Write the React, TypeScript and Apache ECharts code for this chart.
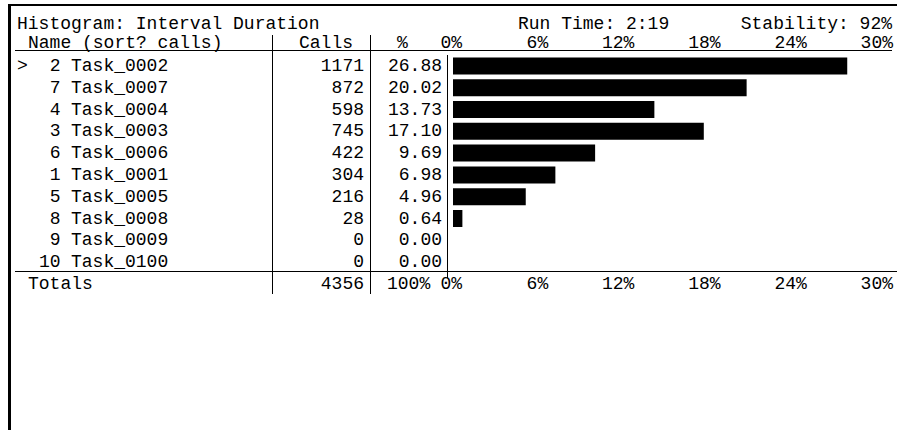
import React, { useEffect, useRef } from "react";
import * as echarts from "echarts";

const tasks = ["Task_0002", "Task_0007", "Task_0004", "Task_0003", "Task_0006", "Task_0001", "Task_0005", "Task_0008", "Task_0009", "Task_0100"];
const ranks = [2, 7, 4, 3, 6, 1, 5, 8, 9, 10];
const calls = [1171, 872, 598, 745, 422, 304, 216, 28, 0, 0];
const percents = [26.88, 20.02, 13.73, 17.10, 9.69, 6.98, 4.96, 0.64, 0.00, 0.00];
const titleText = "Histogram: Interval Duration";
const runTimeText = "Run Time: 2:19";
const stabilityText = "Stability: 92%";
const totalPercentText = "100%";

const FONT = '18px "Liberation Mono", "DejaVu Sans Mono", monospace';
const INK = "#000";

export default function App() {
  const ref = useRef<HTMLDivElement>(null);
  useEffect(() => {
    if (!ref.current) return;
    const chart = echarts.init(ref.current, null, { renderer: "svg" });
    const totalCalls = calls.reduce((a, b) => a + b, 0);
    const GL = 453;
    const yLabelBase = {
      fontFamily: '"Liberation Mono", "DejaVu Sans Mono", monospace',
      fontSize: 18,
      color: INK,
      interval: 0,
    };
    const hiddenAxisParts = {
      axisLine: { show: false },
      axisTick: { show: false },
      splitLine: { show: false },
    };
    const text = (t: string, x: number, y: number, align = "left") => ({
      type: "text",
      x,
      y,
      silent: true,
      style: { text: t, font: FONT, fill: INK, align, verticalAlign: "middle" },
    });
    const line = (x1: number, y1: number, x2: number, y2: number) => ({
      type: "line",
      silent: true,
      shape: { x1, y1, x2, y2 },
      style: { stroke: INK, lineWidth: 1 },
    });
    chart.setOption({
      animation: false,
      backgroundColor: "#fff",
      grid: [
        { left: GL, top: 55, width: 440, height: 218, outerBoundsMode: "none", containLabel: false },
        { left: 462, top: 50, width: 431, height: 221, outerBoundsMode: "none", containLabel: false },
      ],
      xAxis: [
        { gridIndex: 0, type: "value", min: 0, max: 30, show: false },
        {
          gridIndex: 1, type: "value", min: 0, max: 30, interval: 6, position: "top",
          ...hiddenAxisParts,
          axisLabel: { ...yLabelBase, formatter: "{value}%", align: "right", verticalAlign: "middle", margin: 7 },
        },
        {
          gridIndex: 1, type: "value", min: 0, max: 30, interval: 6, position: "bottom",
          ...hiddenAxisParts,
          axisLabel: { ...yLabelBase, formatter: "{value}%", align: "right", verticalAlign: "middle", margin: 13 },
        },
      ],
      yAxis: [
        {
          gridIndex: 0, type: "category", data: tasks, inverse: true, position: "left",
          ...hiddenAxisParts,
          axisLabel: { ...yLabelBase, align: "left", margin: GL - 71 },
        },
        {
          gridIndex: 0, type: "category", data: tasks, inverse: true, position: "left",
          ...hiddenAxisParts,
          axisLabel: { ...yLabelBase, align: "right", margin: GL - 60.5, formatter: (_v: string, i: number) => String(ranks[i]) },
        },
        {
          gridIndex: 0, type: "category", data: tasks, inverse: true, position: "left",
          ...hiddenAxisParts,
          axisLabel: { ...yLabelBase, align: "right", margin: GL - 364, formatter: (_v: string, i: number) => String(calls[i]) },
        },
        {
          gridIndex: 0, type: "category", data: tasks, inverse: true, position: "left",
          ...hiddenAxisParts,
          axisLabel: { ...yLabelBase, align: "right", margin: GL - 442, formatter: (_v: string, i: number) => percents[i].toFixed(2) },
        },
        { gridIndex: 1, type: "value", show: false },
      ],
      series: [
        {
          type: "bar",
          xAxisIndex: 0,
          yAxisIndex: 0,
          data: percents,
          barWidth: 17,
          itemStyle: { color: INK },
          silent: true,
        },
      ],
      graphic: [
        { type: "rect", silent: true, shape: { x: 8, y: 4, width: 3, height: 426 }, style: { fill: INK } },
        { type: "rect", silent: true, shape: { x: 8, y: 4, width: 889, height: 2 }, style: { fill: INK } },
        text(titleText, 17, 24),
        text(runTimeText, 518, 24),
        text(stabilityText, 892, 24, "right"),
        text("Name (sort? calls)", 28, 43),
        text("Calls", 353, 43, "right"),
        text("%", 397, 43),
        text(">", 17, 66),
        text("Totals", 28, 284),
        text(String(totalCalls), 364, 284, "right"),
        text(totalPercentText, 387, 284),
        line(15, 50.5, 892, 50.5),
        line(15, 271.5, 897, 271.5),
        line(272.5, 35, 272.5, 294),
        line(370.5, 35, 370.5, 294),
        line(447.5, 55, 447.5, 278),
      ],
    });
    return () => chart.dispose();
  }, []);
  return (
    <div
      ref={ref}
      style={{ position: "fixed", left: 0, top: 0, width: 897, height: 430, background: "#fff" }}
    />
  );
}
